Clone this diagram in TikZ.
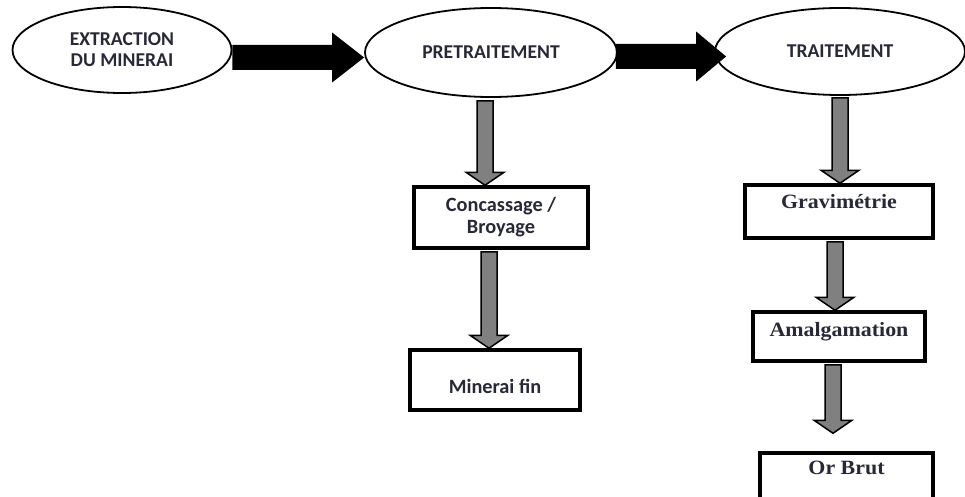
\documentclass[tikz,border=0pt]{standalone}
\usepackage{fontspec}
\usetikzlibrary{shapes.geometric,calc}
\newfontfamily\calib{Carlito}
\newfontfamily\cambr[FakeStretch=1.08]{Liberation Serif}
\definecolor{txt}{RGB}{40,40,55}
\definecolor{greyarr}{RGB}{128,128,128}
\tikzset{
  oval/.style={ellipse, draw, fill=white, line width=1.8pt, inner sep=0pt, text=txt,
    font=\calib\bfseries\fontsize{19.6}{21}\selectfont, align=center},
  stepbox/.style={rectangle, draw, fill=white, line width=3.5pt, inner sep=0pt, text=txt},
  sansbox/.style={stepbox, font=\calib\bfseries\fontsize{20.3}{22}\selectfont, align=center},
  serifbox/.style={stepbox, font=\cambr\bfseries\fontsize{20.3}{22}\selectfont},
  blkarrow/.style={fill=black},
  gryarrow/.style={fill=greyarr, draw=black, line width=1.5pt, line join=miter}
}
\newcommand\greyarrow[2]{%
  \filldraw[gryarrow] let \p1=(#1), \p2=(#2) in
    (\x1-8pt,\y1) -- (\x1-8pt,\y2+13pt) -- (\x1-19pt,\y2+13pt) -- (\x1,\y2)
    -- (\x1+19pt,\y2+13pt) -- (\x1+8pt,\y2+13pt) -- (\x1+8pt,\y1) -- cycle;}
\newcommand\blackarrow[3]{%
  \fill[blkarrow] let \p1=(#1), \p2=(#2) in
    (\x1,\y2+12.5pt) -- (\x2-#3,\y2+12.5pt) -- (\x2-#3,\y2+25pt) -- (\x2,\y2)
    -- (\x2-#3,\y2-25pt) -- (\x2-#3,\y2-12.5pt) -- (\x1,\y2-12.5pt) -- cycle;}
\begin{document}
\begin{tikzpicture}[x=1pt,y=-1pt]
\useasboundingbox (0,0) rectangle (965,497);
\clip (0,0) rectangle (965,497);
% top row
\node[oval, minimum width=219pt, minimum height=86pt] (e1) at (122,50) {EXTRACTION\\DU MINERAI};
\node[oval, minimum width=252pt, minimum height=89pt] (e2) at (491,52.5) {PRETRAITEMENT};
\node[oval, minimum width=250pt, minimum height=87pt] (e3) at (840,51.5) {TRAITEMENT};
% left column
\node[sansbox, minimum width=174pt, minimum height=61pt] (conc) at (501,217.5) {Concassage /\\Broyage};
\node[sansbox, minimum width=170pt, text height=43pt, text depth=17pt] (minf) at (495,380) {Minerai fin};
% right column
\node[serifbox, minimum width=188pt, text height=23pt, text depth=30pt] (grav) at (839,211.5) {Gravimétrie};
\node[serifbox, minimum width=172pt, text height=24pt, text depth=25pt] (amal) at (839,336.5) {Amalgamation};
\node[serifbox, minimum width=173pt, text height=21pt, text depth=46pt] (orb) at (846.5,486.5) {Or Brut};
% black arrows
\coordinate (b1s) at ($(e1.east)+(0,7)$);
\coordinate (b1t) at ($(e2.west)+(0,5)$);
\coordinate (b2s) at ($(e2.east)+(-2,5)$);
\coordinate (b2t) at ($(e3.west)+(12,5)$);
\blackarrow{b1s}{b1t}{32pt}
\blackarrow{b2s}{b2t}{30pt}
% grey arrows
\coordinate (g1s) at ($(e2.south)+(-6,3)$);
\coordinate (g2s) at ($(conc.south)+(-12,2)$);
\coordinate (g3s) at ($(e3.south)+(0,2)$);
\coordinate (g4s) at ($(grav.south)+(-4,2)$);
\coordinate (g5s) at ($(amal.south)+(-6,2)$);
\coordinate (g5t) at ($(g5s |- orb.north)+(0,-18)$);
\greyarrow{g1s}{g1s |- conc.north}
\greyarrow{g2s}{g2s |- minf.north}
\greyarrow{g3s}{g3s |- grav.north}
\greyarrow{g4s}{g4s |- amal.north}
\greyarrow{g5s}{g5t}
\end{tikzpicture}
\end{document}
